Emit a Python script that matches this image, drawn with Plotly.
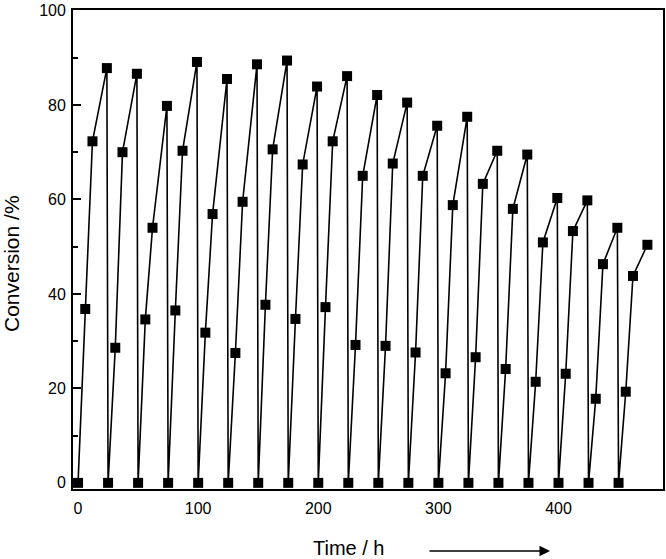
import plotly.graph_objects as go

# time on stream (h): every run sampled at 0, 6, 12 and 24 h, new run every 25 h
hours = [0, 6, 12, 24, 25, 31, 37, 49, 50, 56, 62, 74, 75, 81, 87, 99,
         100, 106, 112, 124, 125, 131, 137, 149, 150, 156, 162, 174,
         175, 181, 187, 199, 200, 206, 212, 224, 225, 231, 237, 249,
         250, 256, 262, 274, 275, 281, 287, 299, 300, 306, 312, 324,
         325, 331, 337, 349, 350, 356, 362, 374, 375, 381, 387, 399,
         400, 406, 412, 424, 425, 431, 437, 449, 450, 456, 462, 474]

conversion = [0, 36.8, 72.3, 87.8, 0, 28.6, 70.0, 86.6, 0, 34.6, 54.0, 79.8,
              0, 36.5, 70.3, 89.1, 0, 31.8, 56.9, 85.5, 0, 27.5, 59.5, 88.6,
              0, 37.7, 70.6, 89.4, 0, 34.7, 67.4, 83.9, 0, 37.2, 72.3, 86.1,
              0, 29.2, 65.0, 82.1, 0, 29.0, 67.6, 80.5, 0, 27.6, 65.0, 75.6,
              0, 23.2, 58.8, 77.5, 0, 26.6, 63.3, 70.3, 0, 24.1, 58.0, 69.5,
              0, 21.4, 50.9, 60.3, 0, 23.1, 53.3, 59.8, 0, 17.8, 46.3, 54.0,
              0, 19.3, 43.8, 50.4]

xTicks = [0, 100, 200, 300, 400]
yTicks = [0, 20, 40, 60, 80, 100]

fontName = "Liberation Sans, Arial, sans-serif"

fig = go.Figure()
fig.add_trace(go.Scatter(x=hours, y=conversion, mode='lines+markers',
        line=dict(color='black', width=1.6),
        marker=dict(symbol='square', size=10, color='black'),
        showlegend=False,
    ))

# plot box in pixels: left 73, right 663, top 10, bottom 489
W, H = 666, 559
L, R, T, B = 73, 3, 10, 70
def px(xp):
    return (xp - L) / (W - L - R)
def py(yp):
    return (H - B - yp) / (H - B - T)

fig.update_layout(
    width=W, height=H,
    margin=dict(l=L, r=R, t=T, b=B, autoexpand=False),
    plot_bgcolor='white', paper_bgcolor='white',
    font=dict(family=fontName, size=16, color='black'),
    xaxis=dict(range=[-4.2, 487], tickvals=xTicks, ticks='', automargin=False,
               showline=True, linecolor='black', linewidth=1.8, mirror=True,
               showgrid=False, zeroline=False, ticklabelstandoff=4),
    yaxis=dict(range=[-1.3, 100.1], tickvals=yTicks, ticks='inside', automargin=False,
               ticklen=8, tickwidth=1.5, tickcolor='black',
               minor=dict(dtick=10, ticks='inside', ticklen=5, tickwidth=1.5, tickcolor='black'),
               showline=True, linecolor='black', linewidth=1.8, mirror=True,
               showgrid=False, zeroline=False, ticklabelstandoff=2),
)

fig.add_annotation(text="Conversion /%", textangle=-90, showarrow=False,
                   xref='paper', yref='paper', x=px(11), y=py(264),
                   xanchor='center', yanchor='middle', font=dict(size=21))
fig.add_annotation(text="Time / h", showarrow=False,
                   xref='paper', yref='paper', x=px(349), y=py(548),
                   xanchor='center', yanchor='middle', font=dict(size=20))
fig.add_annotation(text="", showarrow=True, arrowhead=2, arrowsize=1.4, arrowwidth=1.5,
                   arrowcolor='black', xref='paper', yref='paper',
                   x=px(550), y=py(551), ax=-122, ay=0)

# page body has an 8px default margin; drop it so the figure sits at 0,0
fig.write_html("out.html", config={'displayModeBar': False},
               post_script="document.body.style.margin='0';document.body.style.overflow='hidden';")
